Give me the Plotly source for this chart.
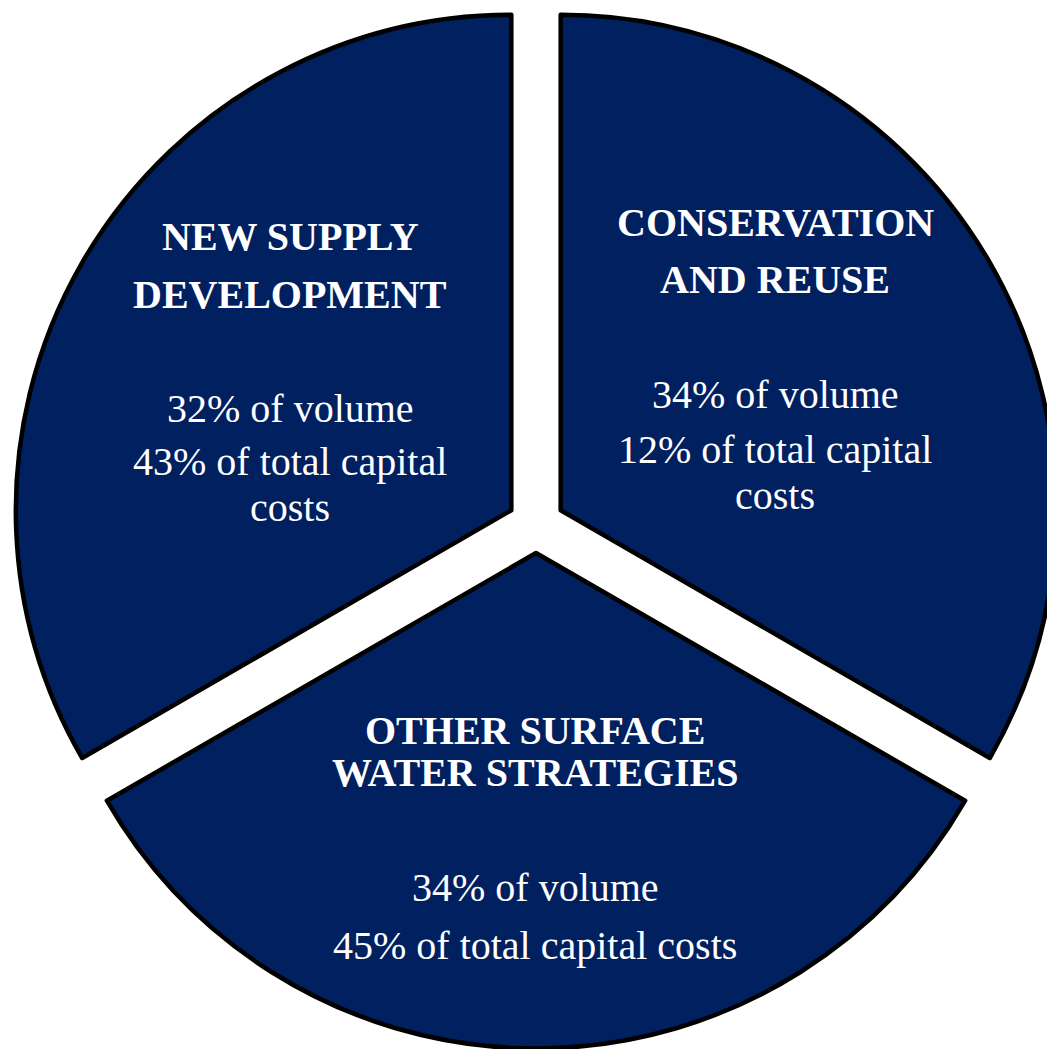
import plotly.graph_objects as go

# ---- data ----
categories = ["CONSERVATION AND REUSE", "OTHER SURFACE WATER STRATEGIES", "NEW SUPPLY DEVELOPMENT"]
slice_share = [1, 1, 1]          # slices drawn as equal thirds in the reference
volume_pct = [34, 34, 32]
capital_pct = [12, 45, 43]
title_lines = [["CONSERVATION", "AND REUSE"],
               ["OTHER SURFACE", "WATER STRATEGIES"],
               ["NEW SUPPLY", "DEVELOPMENT"]]
wrap_costs = [True, False, True]

# ---- layout constants ----
W, H = 1060, 1049
ML, MR, MT, MB = 12, 0, 0, 0
PW, PH = W - ML - MR, H - MT - MB
NAVY = "#002060"
FONT = "Liberation Serif, Times New Roman, serif"
BOLD_SIZE = 40
REG_SIZE = 40

fig = go.Figure(go.Pie(
    labels=categories,
    values=slice_share,
    sort=False,
    direction="clockwise",
    rotation=0,
    pull=[0.0575, 0.0575, 0.0575],
    marker=dict(colors=[NAVY] * 3, line=dict(color="black", width=4.5)),
    textinfo="none",
    hoverinfo="label",
    showlegend=False,
))

def px_to_paper(x, y):
    return (x - ML) / PW, 1 - (y - MT) / PH

# text line positions (center x, baseline y) in page pixels
text_x = [775, 535, 290]
title_base = [[235, 292], [743, 785], [249, 307]]
body_base = [[407, 462, 508], [900, 958], [421, 474, 520]]

annotations = []
for i in range(3):
    for line, base in zip(title_lines[i], title_base[i]):
        x, y = px_to_paper(text_x[i], base - 0.32 * BOLD_SIZE)
        annotations.append(dict(x=x, y=y, xref="paper", yref="paper", text="<b>%s</b>" % line,
                                showarrow=False, xanchor="center", yanchor="middle", borderpad=0,
                                font=dict(family=FONT, size=BOLD_SIZE, color="white")))
    if wrap_costs[i]:
        body = ["%d%% of volume" % volume_pct[i], "%d%% of total capital" % capital_pct[i], "costs"]
    else:
        body = ["%d%% of volume" % volume_pct[i], "%d%% of total capital costs" % capital_pct[i]]
    for line, base in zip(body, body_base[i]):
        x, y = px_to_paper(text_x[i], base - 0.32 * REG_SIZE)
        annotations.append(dict(x=x, y=y, xref="paper", yref="paper", text=line,
                                showarrow=False, xanchor="center", yanchor="middle", borderpad=0,
                                font=dict(family=FONT, size=REG_SIZE, color="white")))

fig.update_layout(
    width=W, height=H,
    margin=dict(l=ML, r=MR, t=MT, b=MB),
    paper_bgcolor="white", plot_bgcolor="white",
    annotations=annotations,
)

fig.write_html("out.html", config={"displayModeBar": False},
               post_script="document.documentElement.style.overflow='hidden';document.body.style.overflow='hidden';document.body.style.margin='0';")
